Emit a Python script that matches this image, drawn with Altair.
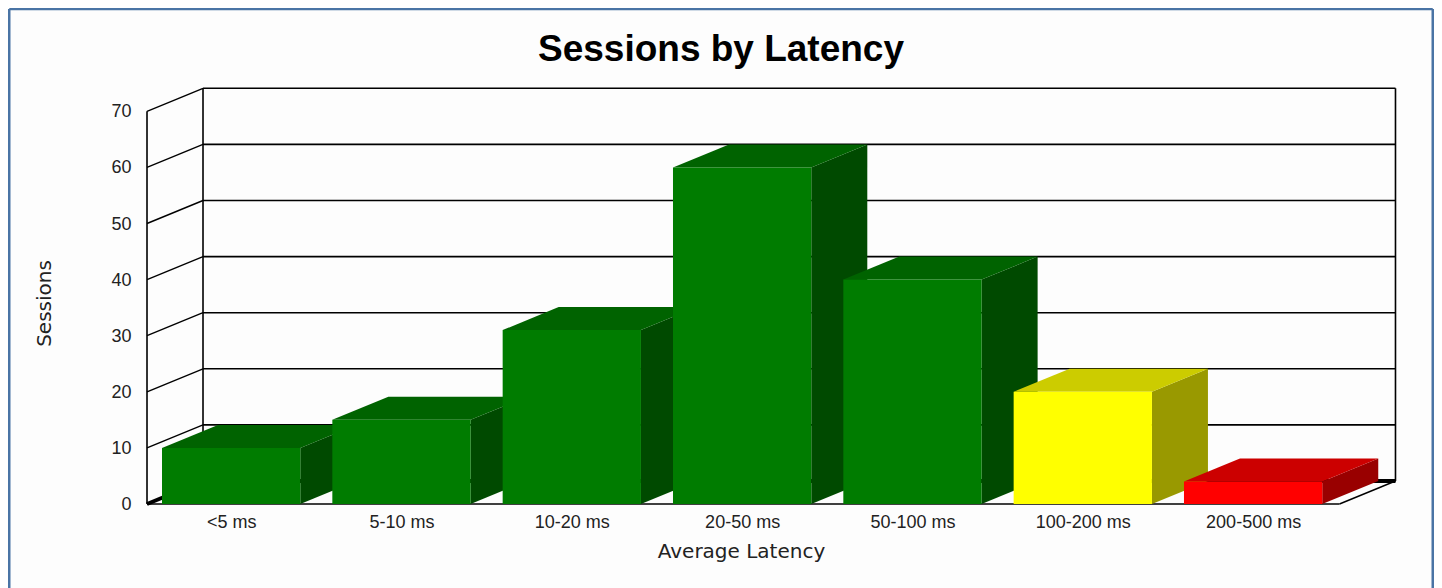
import altair as alt
import pandas as pd

categories = ["<5 ms", "5-10 ms", "10-20 ms", "20-50 ms", "50-100 ms", "100-200 ms", "200-500 ms"]
sessions = [10, 15, 31, 60, 40, 20, 4]
front_colors = ["#007c00", "#007c00", "#007c00", "#007c00", "#007c00", "#ffff00", "#ff0000"]
top_colors = ["#006300", "#006300", "#006300", "#006300", "#006300", "#cccc00", "#cc0000"]
side_colors = ["#004a00", "#004a00", "#004a00", "#004a00", "#004a00", "#999900", "#990000"]
y_ticks = [0, 10, 20, 30, 40, 50, 60, 70]

W, H = 1426, 592
STEP, UNIT = 170.33, 5.61          # px per category / per session
X0_PX, Y0_VIEW = 223.15, 496        # where category 0 and value 0 fall in the view
DX, DY = 56 / STEP, 23 / UNIT       # depth of the 3D box, in scale units
HALF = 69.15 / STEP
XL, XR = -0.494, 6.507

x_dom = [-X0_PX / STEP, (W - X0_PX) / STEP]
y_dom = [-(H - Y0_VIEW) / UNIT, Y0_VIEW / UNIT]
xs = alt.Scale(domain=x_dom, nice=False, zero=False)
ys = alt.Scale(domain=y_dom, nice=False, zero=False)

# walls and floor
lines = []
for v in y_ticks:
    lines.append((XL + DX, v + DY, XR + DX, v + DY, 1.6))
    lines.append((XL, v, XL + DX, v + DY, 1.4))
lines += [
    (XL, 0, XL, 70, 1.6),
    (XL + DX, DY, XL + DX, 70 + DY, 1.6),
    (XR + DX, DY, XR + DX, 70 + DY, 1.6),
    (XL, 0, XR, 0, 1.6),
    (XR, 0, XR + DX, DY, 1.4),
    (XL, 0, XL + DX, DY, 4),
    (XL + DX, DY, XR + DX, DY, 4),
]
lines_df = pd.DataFrame(lines, columns=["x", "y", "x2", "y2", "sw"])

# the blue box round the picture: open at the bottom, as in the reference
fl, fr = x_dom[0] + 1.25 / STEP, x_dom[1] - 1.25 / STEP
ft = y_dom[1] - 1 / UNIT
border_df = pd.DataFrame(
    [(fl, ft, fr, ft), (fl, ft, fl, y_dom[0]), (fr, ft, fr, y_dom[0])],
    columns=["x", "y", "x2", "y2"],
)

side_rows, top_rows, front_rows = [], [], []
for i, (v, f, t, s) in enumerate(zip(sessions, front_colors, top_colors, side_colors)):
    l, r = i - HALF, i + HALF
    front_rows.append((l, r, 0, v, f))
    side_rows += [(i, r, 0, v, s), (i, r + DX, DY, v + DY, s)]
    top_rows += [
        (i, l, v, v, t),
        (i, l + DX, v, v + DY, t),
        (i, r, v, v + DY, t),
        (i, r + DX, v + DY, v + DY, t),
    ]
side_df = pd.DataFrame(side_rows, columns=["bar", "x", "y", "y2", "c"])
top_df = pd.DataFrame(top_rows, columns=["bar", "x", "y", "y2", "c"])
front_df = pd.DataFrame(front_rows, columns=["x", "x2", "y", "y2", "c"])

label_list = "[" + ",".join("'" + c + "'" for c in categories) + "]"
x_axis = alt.Axis(
    values=list(range(len(categories))), labelExpr=label_list + "[datum.value]",
    offset=-(H - Y0_VIEW), tickSize=0, domain=False, grid=False, labelPadding=9,
    labelFlush=False, labelOverlap=False, title="Average Latency", titleX=733, titleY=47,
    titleAnchor="middle", titleAlign="center", titleBaseline="middle",
)
y_axis = alt.Axis(
    values=y_ticks, offset=-139, tickSize=0, domain=False, grid=False, labelPadding=16,
    labelOffset=0.5, labelFlush=False, labelOverlap=False, title="Sessions", titleX=-103,
    titleY=295, titleAngle=270, titleAlign="center", titleBaseline="middle",
)
X = alt.X("x:Q", scale=xs, axis=x_axis)
Y = alt.Y("y:Q", scale=ys, axis=y_axis)

border = alt.Chart(border_df).mark_rule(color="#4a74a5", strokeWidth=2.5).encode(
    x=X, y=Y, x2="x2:Q", y2="y2:Q",
)

frame = alt.Chart(lines_df).mark_rule(color="#000000").encode(
    x=X, y=Y, x2="x2:Q", y2="y2:Q",
    strokeWidth=alt.StrokeWidth("sw:Q", scale=None),
)


def faces(df):
    return alt.Chart(df).mark_area(opacity=1, interpolate="linear").encode(
        x=X, y=Y, y2="y2:Q",
        detail="bar:N",
        fill=alt.Fill("c:N", scale=None),
    )


fronts = alt.Chart(front_df).mark_rect().encode(
    x=X, x2="x2:Q", y=Y, y2="y2:Q",
    fill=alt.Fill("c:N", scale=None),
)

chart = alt.layer(border, frame, faces(side_df), faces(top_df), fronts).properties(
    width=W, height=H,
    padding=0,
    autosize=alt.AutoSizeParams(type="none"),
    background="#ffffff",
    title=alt.Title(
        "Sessions by Latency", font="Liberation Sans", fontSize=37, fontWeight="bold",
        color="#000000", anchor="middle", offset=-61,
    ),
).configure_view(stroke=None, fill="#fdfdfd").configure_axis(
    labelFont="Liberation Sans", labelFontSize=18, labelColor="#222222",
    titleFont="DejaVu Sans", titleFontSize=20, titleColor="#222222", titleFontWeight="normal",
)

chart.save("out.html", embed_options={"renderer": "svg", "actions": False})
